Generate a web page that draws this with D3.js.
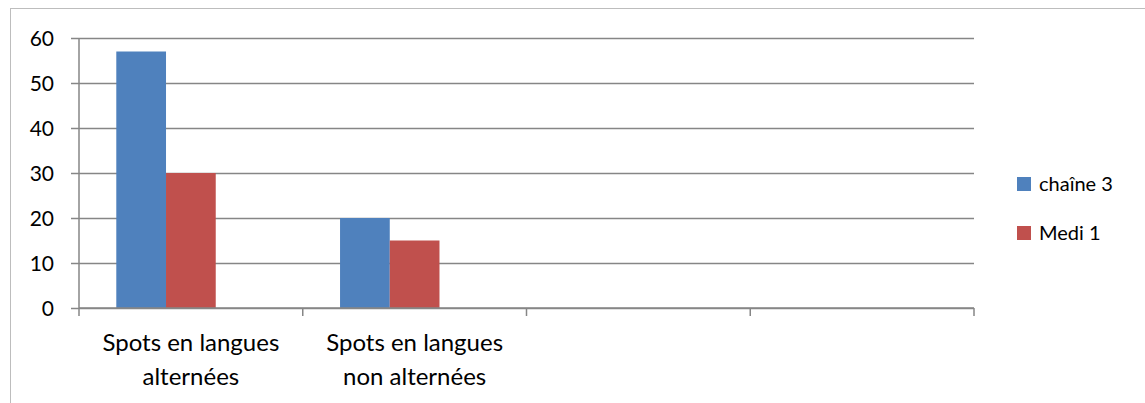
<!DOCTYPE html>
<html>
<head>
<meta charset="utf-8">
<script src="https://cdn.jsdelivr.net/npm/d3@7"></script>
<style>
  html, body { margin: 0; padding: 0; background: #fff; }
  svg { display: block; }
  text { font-family: Lato, "Open Sans", sans-serif; fill: #000; }
</style>
</head>
<body>
<svg id="chart" width="1145" height="403"></svg>
<script>
const categories = ["Spots en langues alternées", "Spots en langues non alternées", "", ""];
const seriesNames = ["chaîne 3", "Medi 1", ""];
const chaine3 = [57, 20, null, null];
const medi1 = [30, 15, null, null];
const series3 = [null, null, null, null];
const seriesColors = ["#4F81BD", "#C0504D", "#9BBB59"];
const yTicks = [0, 10, 20, 30, 40, 50, 60];

const seriesValues = [chaine3, medi1, series3];

const W = 1145, H = 403;
const plotLeft = 79, plotRight = 974, plotTop = 38, plotBottom = 308;
const gridColor = "#868686";

const svg = d3.select("#chart");

// outer chart border
svg.append("rect")
  .attr("x", 10.5).attr("y", 8.5)
  .attr("width", W + 20).attr("height", H + 20)
  .attr("fill", "none").attr("stroke", "#bdbdbd").attr("stroke-width", 1);

const x = d3.scaleBand().domain(d3.range(categories.length)).range([plotLeft, plotRight]).padding(0);
const xSub = d3.scaleBand().domain(d3.range(seriesNames.length)).range([0, x.bandwidth()])
  .paddingInner(0).paddingOuter(0.75);
const y = d3.scaleLinear().domain([0, 60]).range([plotBottom, plotTop]);

// gridlines + y ticks
const yAxis = d3.axisLeft(y).tickValues(yTicks).tickSize(-(plotRight - plotLeft)).tickSizeOuter(0).tickPadding(0);
const gy = svg.append("g").attr("transform", `translate(${plotLeft},0)`).call(yAxis);
gy.select(".domain").remove();
gy.selectAll(".tick line")
  .attr("x1", -8).attr("x2", plotRight - plotLeft)
  .attr("stroke", gridColor).attr("stroke-width", 1.5);
gy.selectAll(".tick text")
  .attr("x", -25)
  .attr("dy", "0.35em")
  .style("font-size", "21px")
  .style("font-family", "Lato, sans-serif")
  .attr("fill", "#000");

// y axis line
svg.append("line")
  .attr("x1", plotLeft).attr("x2", plotLeft).attr("y1", plotTop).attr("y2", plotBottom)
  .attr("stroke", gridColor).attr("stroke-width", 1.5);

// bars
const data = [];
categories.forEach((c, i) => {
  seriesValues.forEach((vals, s) => {
    if (vals[i] != null) data.push({ i, s, v: vals[i] });
  });
});
svg.append("g").selectAll("rect").data(data).join("rect")
  .attr("x", d => x(d.i) + xSub(d.s))
  .attr("width", xSub.bandwidth())
  .attr("y", d => y(d.v))
  .attr("height", d => y(0) - y(d.v))
  .attr("fill", d => seriesColors[d.s]);

// x axis line + ticks at category boundaries
const gx = svg.append("g");
gx.append("line")
  .attr("x1", plotLeft).attr("x2", plotRight).attr("y1", plotBottom).attr("y2", plotBottom)
  .attr("stroke", gridColor).attr("stroke-width", 1.5);
const boundaries = d3.range(categories.length + 1).map(i => i < categories.length ? x(i) : x(i - 1) + x.bandwidth());
gx.selectAll("line.tk").data(boundaries).join("line").attr("class", "tk")
  .attr("x1", d => d).attr("x2", d => d)
  .attr("y1", plotBottom).attr("y2", plotBottom + 8)
  .attr("stroke", gridColor).attr("stroke-width", 1.5);

// category labels with wrapping
const labelSize = 24;
const labels = gx.selectAll("text.cat").data(categories).join("text").attr("class", "cat")
  .attr("text-anchor", "middle")
  .style("font-size", labelSize + "px");
labels.each(function(c, i) {
  const t = d3.select(this);
  const cx = x(i) + x.bandwidth() / 2;
  const words = c.split(" ").filter(w => w);
  const lines = [];
  let cur = [];
  const maxW = x.bandwidth() - 20;
  words.forEach(w => {
    cur.push(w);
    const ts = t.append("tspan").text(cur.join(" "));
    const len = ts.node().getComputedTextLength();
    ts.remove();
    if (len > maxW && cur.length > 1) {
      cur.pop();
      lines.push(cur.join(" "));
      cur = [w];
    }
  });
  if (cur.length) lines.push(cur.join(" "));
  lines.forEach((ln, k) => {
    t.append("tspan").attr("x", cx).attr("y", 351 + k * 34).text(ln);
  });
});

// legend
const legendNames = seriesNames.filter(n => n);
const lg = svg.append("g");
legendNames.forEach((n, k) => {
  const yy = 184 + k * 49;
  lg.append("rect").attr("x", 1017).attr("y", yy - 7).attr("width", 14).attr("height", 14)
    .attr("fill", seriesColors[k]);
  lg.append("text").attr("x", 1039).attr("y", yy).attr("dy", "0.35em")
    .style("font-size", "20px").text(n);
});
</script>
</body>
</html>
